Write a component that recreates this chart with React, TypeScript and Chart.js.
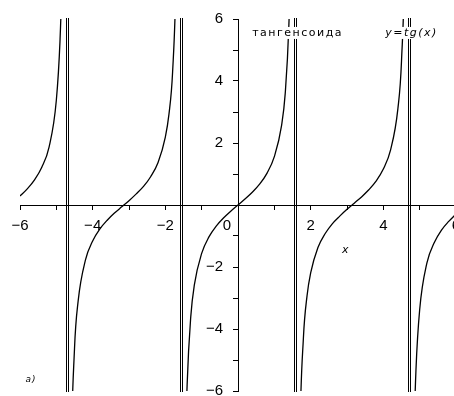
import React, { useEffect, useRef } from "react";
import { Chart, registerables } from "chart.js";

Chart.register(...registerables);

// Axis ranges and labelled ticks
const xRange = [-6, 6];
const yRange = [-6, 6];
const xLabelled = [-6, -4, -2, 0, 2, 4, 6];
const yLabelled = [-6, -4, -2, 2, 4, 6];

// Vertical asymptotes of tg(x)
const asymptotes = [-4.712, -1.571, 1.571, 4.712];

// Branches of y = tg(x)
const branch1X = [-6.0, -5.8, -5.6, -5.4, -5.2, -5.0, -4.9, -4.85, -4.8, -4.78];
const branch1Y = [0.29, 0.52, 0.81, 1.22, 1.87, 3.38, 5.27, 7.22, 11.39, 14.77];

const branch2X = [-4.65, -4.6, -4.5, -4.4, -4.2, -4.0, -3.8, -3.6, -3.4, -3.2, -3.0, -2.8, -2.6, -2.4, -2.2, -2.0, -1.9, -1.8, -1.7, -1.65];
const branch2Y = [-16.0, -8.86, -4.64, -3.1, -1.78, -1.16, -0.77, -0.49, -0.26, -0.06, 0.14, 0.36, 0.6, 0.92, 1.37, 2.19, 2.93, 4.29, 7.7, 12.6];

const branch3X = [-1.5, -1.45, -1.4, -1.3, -1.2, -1.0, -0.8, -0.6, -0.4, -0.2, 0, 0.2, 0.4, 0.6, 0.8, 1.0, 1.2, 1.3, 1.4, 1.45, 1.5];
const branch3Y = [-14.1, -8.17, -5.8, -3.6, -2.57, -1.56, -1.03, -0.68, -0.42, -0.2, 0, 0.2, 0.42, 0.68, 1.03, 1.56, 2.57, 3.6, 5.8, 8.17, 14.1];

const branch4X = [1.64, 1.7, 1.8, 1.9, 2.0, 2.2, 2.4, 2.6, 2.8, 3.0, 3.2, 3.4, 3.6, 3.8, 4.0, 4.2, 4.4, 4.5, 4.6, 4.65];
const branch4Y = [-14.4, -7.7, -4.29, -2.93, -2.19, -1.37, -0.92, -0.6, -0.36, -0.14, 0.06, 0.26, 0.49, 0.77, 1.16, 1.78, 3.1, 4.64, 8.86, 16.0];

const branch5X = [4.78, 4.8, 4.85, 4.9, 5.0, 5.2, 5.4, 5.6, 5.8, 6.0];
const branch5Y = [-14.77, -11.39, -7.22, -5.27, -3.38, -1.87, -1.22, -0.81, -0.53, -0.29];

const branchesX = [branch1X, branch2X, branch3X, branch4X, branch5X];
const branchesY = [branch1Y, branch2Y, branch3Y, branch4Y, branch5Y];

// Annotations
const titleText = "тангенсоида";
const formulaText = "y=tg(x)";
const axisNameText = "x";
const cornerText = "а)";
const titleAt = [0.39, 5.55];
const formulaAt = [4.05, 5.55];
const axisNameAt = [2.86, -1.47];
const cornerAt = [-5.85, -5.62];

const fmt = (v: number) => (v < 0 ? "\u2212" + Math.abs(v) : String(v));

const overlayPlugin = {
  id: "tgOverlay",
  beforeDraw(chart: any) {
    const { scales, chartArea } = chart;
    // keep y labels clear of the axis line (left of it, as in the original)
    const yItems = scales.y.getLabelItems(chartArea);
    for (const it of yItems) {
      if (!it._shifted) {
        it.options.translation[0] -= 15;
        it._shifted = true;
      }
    }
    const xItems = scales.x.getLabelItems(chartArea);
    for (const it of xItems) {
      if (!it._shifted && it.label === "0") {
        it.options.translation[0] -= 11;
        it._shifted = true;
      }
    }
  },
  beforeDatasetsDraw(chart: any) {
    const { ctx, chartArea, scales } = chart;
    ctx.save();
    ctx.strokeStyle = "#000";
    ctx.lineWidth = 1;
    for (const a of asymptotes) {
      const px = Math.round(scales.x.getPixelForValue(a));
      for (const off of [-1, 1]) {
        ctx.beginPath();
        ctx.moveTo(px + off + 0.5, chartArea.top - 1);
        ctx.lineTo(px + off + 0.5, chartArea.bottom + 1);
        ctx.stroke();
      }
    }
    ctx.restore();
  },
  afterDatasetsDraw(chart: any) {
    const { ctx, scales } = chart;
    const put = (text: string, at: number[], font: string, spacing: string, bg: boolean) => {
      ctx.save();
      ctx.font = font;
      try {
        (ctx as any).letterSpacing = spacing;
      } catch (e) {}
      ctx.textBaseline = "middle";
      ctx.textAlign = "left";
      const x = scales.x.getPixelForValue(at[0]);
      const y = scales.y.getPixelForValue(at[1]);
      const w = ctx.measureText(text).width;
      if (bg) {
        ctx.fillStyle = "#fff";
        ctx.fillRect(x - 2, y - 6, w + 4, 12);
      }
      ctx.fillStyle = "#000";
      ctx.fillText(text, x, y);
      ctx.restore();
    };
    put(titleText, titleAt, "11px 'DejaVu Sans'", "1.5px", true);
    put(formulaText, formulaAt, "italic 11px 'DejaVu Sans'", "1.5px", true);
    put(axisNameText, axisNameAt, "italic 11px 'DejaVu Sans'", "0px", false);
    put(cornerText, cornerAt, "italic 9px 'DejaVu Sans'", "1px", false);
  },
};

export default function App() {
  const ref = useRef<HTMLCanvasElement | null>(null);

  useEffect(() => {
    document.body.style.margin = "0";
    document.body.style.overflow = "hidden";
    document.body.style.background = "#fff";
    const canvas = ref.current;
    if (!canvas) return;

    const datasets = branchesX.map((xs, i) => ({
      label: "tg" + i,
      data: xs.map((x, j) => ({ x, y: branchesY[i][j] })),
      showLine: true,
      borderColor: "#000",
      borderWidth: 1.3,
      pointRadius: 0,
      cubicInterpolationMode: "monotone" as const,
      fill: false,
    }));

    const tickFont = { family: "'Liberation Sans', Arial, sans-serif", size: 15 };

    const chart = new Chart(canvas, {
      type: "scatter",
      data: { datasets },
      plugins: [overlayPlugin],
      options: {
        animation: false,
        responsive: false,
        maintainAspectRatio: false,
        events: [],
        layout: { padding: { left: 20, top: 15, right: 14, bottom: 19 } },
        plugins: {
          legend: { display: false },
          tooltip: { enabled: false },
          title: { display: false },
        },
        scales: {
          x: {
            type: "linear",
            min: xRange[0],
            max: xRange[1],
            position: { y: 0 } as any,
            border: { display: true, color: "#000", width: 1 },
            grid: { display: true, drawOnChartArea: false, drawTicks: true, tickLength: 4, color: "#000" },
            ticks: {
              stepSize: 1,
              autoSkip: false,
              maxRotation: 0,
              padding: 8,
              color: "#000",
              font: tickFont,
              callback: (v: any) => (xLabelled.includes(Number(v)) ? fmt(Number(v)) : ""),
            },
          },
          y: {
            type: "linear",
            min: yRange[0],
            max: yRange[1],
            position: { x: 0 } as any,
            border: { display: true, color: "#000", width: 1 },
            grid: { display: true, drawOnChartArea: false, drawTicks: true, tickLength: 5, color: "#000" },
            ticks: {
              stepSize: 1,
              autoSkip: false,
              padding: 10,
              color: "#000",
              font: tickFont,
              callback: (v: any) => (yLabelled.includes(Number(v)) ? fmt(Number(v)) : ""),
            },
          },
        },
      },
    });
    return () => chart.destroy();
  }, []);

  return (
    <div style={{ width: 454, height: 396, overflow: "hidden", background: "#fff" }}>
      <canvas ref={ref} width={470} height={410} style={{ display: "block" }} />
    </div>
  );
}
